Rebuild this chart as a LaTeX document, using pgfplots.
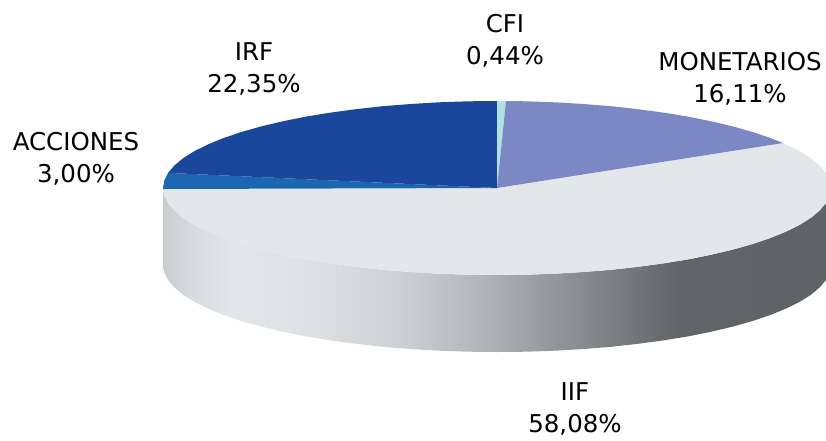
\documentclass[border=0pt]{standalone}
\usepackage{fontspec}
\setmainfont{DejaVu Sans}
\usepackage{pgfplots}
\pgfplotsset{compat=1.18}
\definecolor{cIRF}{HTML}{1A469B}
\definecolor{cACC}{HTML}{1A66B0}
\definecolor{cMON}{HTML}{7B88C3}
\definecolor{cCFI}{HTML}{B0E0E0}
\definecolor{cIIF}{HTML}{E4E7EA}
\definecolor{sa}{HTML}{C8CDD0}
\definecolor{sb}{HTML}{D6DADC}
\definecolor{sc}{HTML}{E3E6E9}
\definecolor{sd}{HTML}{E0E3E6}
\definecolor{se}{HTML}{CDD1D3}
\definecolor{sf}{HTML}{B2B6B8}
\definecolor{sg}{HTML}{8F9496}
\definecolor{sh}{HTML}{787C7E}
\definecolor{si}{HTML}{606466}
\definecolor{sj}{HTML}{5F6365}
\pgfdeclarehorizontalshading{sidegrad}{100bp}{
  color(0bp)=(sa);
  color(25bp)=(sa);
  color(27bp)=(sb);
  color(30bp)=(sc);
  color(35.25bp)=(sd);
  color(42.7bp)=(se);
  color(48.7bp)=(sf);
  color(54.7bp)=(sg);
  color(59.2bp)=(sh);
  color(63.7bp)=(si);
  color(75bp)=(sj);
  color(100bp)=(sj)}
\tikzset{lab/.style={font=\fontsize{24.5}{32}\selectfont, align=center, text=black, inner sep=0pt}}
\begin{document}
\begin{tikzpicture}
\useasboundingbox (0,0) rectangle (826pt,440pt);
\begin{axis}[
  scale only axis, width=826pt, height=440pt,
  xmin=0, xmax=826, ymin=0, ymax=440, y dir=reverse,
  hide axis, clip=true
]
% side wall
\addplot[shade, shading=sidegrad, draw=none] coordinates {
(163,188)(164.3,195.6)(168.1,203.1)(174.4,210.5)(183.1,217.8)(194.3,224.8)(207.8,231.5)(223.4,237.9)(241.1,243.9)(260.8,249.5)(282.3,254.6)(305.4,259.3)(330,263.3)(355.9,266.8)(382.8,269.8)(410.6,272)(439,273.7)(467.9,274.7)(497,275)(526.1,274.7)(555,273.7)(583.4,272)(611.2,269.8)(638.1,266.8)(664,263.3)(688.6,259.3)(711.7,254.6)(733.2,249.5)(752.9,243.9)(770.6,237.9)(786.2,231.5)(799.7,224.8)(810.9,217.8)(819.6,210.5)(825.9,203.1)(829.7,195.6)(831,188)
(831,265)(829.7,272.6)(825.9,280.1)(819.6,287.5)(810.9,294.8)(799.7,301.8)(786.2,308.5)(770.6,314.9)(752.9,320.9)(733.2,326.5)(711.7,331.6)(688.6,336.3)(664,340.3)(638.1,343.8)(611.2,346.8)(583.4,349)(555,350.7)(526.1,351.7)(497,352)(467.9,351.7)(439,350.7)(410.6,349)(382.8,346.8)(355.9,343.8)(330,340.3)(305.4,336.3)(282.3,331.6)(260.8,326.5)(241.1,320.9)(223.4,314.9)(207.8,308.5)(194.3,301.8)(183.1,294.8)(174.4,287.5)(168.1,280.1)(164.3,272.6)(163,265)
} -- cycle;
% IIF 58,08 %
\addplot[fill=cIIF, draw=none] coordinates {
(783,143)(786.2,144.5)(799.7,151.2)(810.9,158.2)(819.6,165.5)(825.9,172.9)(829.7,180.4)(831,188)(829.7,195.6)(825.9,203.1)(819.6,210.5)(810.9,217.8)(799.7,224.8)(786.2,231.5)(770.6,237.9)(752.9,243.9)(733.2,249.5)(711.7,254.6)(688.6,259.3)(664,263.3)(638.1,266.8)(611.2,269.8)(583.4,272)(555,273.7)(526.1,274.7)(497,275)(467.9,274.7)(439,273.7)(410.6,272)(382.8,269.8)(355.9,266.8)(330,263.3)(305.4,259.3)(282.3,254.6)(260.8,249.5)(241.1,243.9)(223.4,237.9)(207.8,231.5)(194.3,224.8)(183.1,217.8)(174.4,210.5)(168.1,203.1)(164.3,195.6)(163,189)(497,188)
} -- cycle;
% ACCIONES 3,00 %
\addplot[fill=cACC, draw=none] coordinates {
(497,188)(163,189)(163,188)(164.3,180.4)(168.1,172.9)
} -- cycle;
% IRF 22,35 %
\addplot[fill=cIRF, draw=none] coordinates {
(497,188)(168.1,172.9)(174.4,165.5)(183.1,158.2)(194.3,151.2)(207.8,144.5)(223.4,138.1)(241.1,132.1)(260.8,126.5)(282.3,121.4)(305.4,116.7)(330,112.7)(355.9,109.2)(382.8,106.2)(410.6,104)(439,102.3)(467.9,101.3)(497,101)
} -- cycle;
% CFI 0,44 %
\addplot[fill=cCFI, draw=none] coordinates {
(497,188)(497,101)(506,101)
} -- cycle;
% MONETARIOS 16,11 %
\addplot[fill=cMON, draw=none] coordinates {
(497,188)(506,101)(526.1,101.3)(555,102.3)(583.4,104)(611.2,106.2)(638.1,109.2)(664,112.7)(688.6,116.7)(711.7,121.4)(733.2,126.5)(752.9,132.1)(770.6,138.1)(783,143)
} -- cycle;
\node[lab] at (axis cs:505,41) {CFI\\0,44\%};
\node[lab] at (axis cs:254,69) {IRF\\22,35\%};
\node[lab] at (axis cs:76,159) {ACCIONES\\3,00\%};
\node[lab] at (axis cs:740,79) {MONETARIOS\\16,11\%};
\node[lab] at (axis cs:575,409) {IIF\\58,08\%};
\end{axis}
\end{tikzpicture}
\end{document}
